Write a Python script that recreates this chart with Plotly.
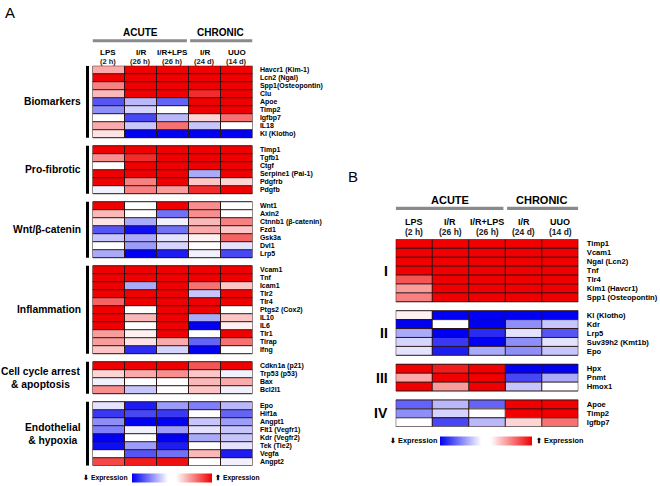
import plotly.graph_objects as go

# ---------------- data ----------------
conditions = ["LPS", "I/R", "I/R+LPS", "I/R", "UUO"]
durations = ["(2 h)", "(26 h)", "(26 h)", "(24 d)", "(14 d)"]
phase_names = ["ACUTE", "CHRONIC"]
phase_cols = [[0, 1, 2], [3, 4]]

# Panel A
a_group_names = ["Biomarkers", "Pro-fibrotic", "Wnt/β-catenin", "Inflammation",
                 "Cell cycle arrest<br>& apoptosis", "Endothelial<br>& hypoxia"]

a_biomarker_genes = ["Havcr1 (Kim-1)", "Lcn2 (Ngal)", "Spp1(Osteopontin)", "Clu", "Apoe",
                     "Timp2", "Igfbp7", "IL18", "Kl (Klotho)"]
a_biomarker_vals = [
    [0.40, 1, 1, 1, 1],
    [1, 1, 1, 1, 1],
    [0.55, 1, 1, 1, 1],
    [0.35, 1, 1, 0.85, 1],
    [-0.70, -0.35, -0.65, 1, 1],
    [-0.50, -0.25, 0.0, 1, 1],
    [0.0, -0.75, -0.35, 0.25, 0.60],
    [0.40, -0.30, 0.60, -0.30, 0.0],
    [0.20, -1, -1, -1, -1],
]

a_fibrotic_genes = ["Timp1", "Tgfb1", "Ctgf", "Serpine1 (Pai-1)", "Pdgfrb", "Pdgfb"]
a_fibrotic_vals = [
    [1, 1, 1, 1, 1],
    [0.50, 0.85, 1, 1, 1],
    [0.0, 1, 1, 1, 1],
    [1, 1, 1, -0.40, 1],
    [1, 0.55, 1, 0.30, 0.25],
    [-0.15, 0.55, 0.45, 0.85, 1],
]

a_wnt_genes = ["Wnt1", "Axin2", "Ctnnb1 (β-catenin)", "Fzd1", "Gsk3a", "Dvl1", "Lrp5"]
a_wnt_vals = [
    [1, -0.10, 1, 0.50, 0.0],
    [0.35, -0.10, -0.60, 0.50, 0.0],
    [0.20, -0.40, -0.15, 0.35, 0.55],
    [-0.70, -0.95, -0.60, 0.40, 0.30],
    [-0.30, -0.40, -0.20, 0.15, 0.65],
    [0.0, -0.45, -0.25, 0.0, -0.20],
    [-0.40, -1, -0.90, -0.15, -0.75],
]

a_inflam_genes = ["Vcam1", "Tnf", "Icam1", "Tlr2", "Tlr4", "Ptgs2 (Cox2)", "IL10", "IL6",
                  "Tlr1", "Tirap", "Ifng"]
a_inflam_vals = [
    [1, 1, 1, 1, 1],
    [1, 1, 1, 1, 1],
    [1, -0.40, 1, 0.60, 0.30],
    [1, 1, 1, -0.30, 1],
    [0.65, 1, 1, 1, 1],
    [1, 0.0, 1, 1, 0.0],
    [1, 0.35, 1, -0.40, 0.30],
    [1, 0.0, 1, -1, 0.15],
    [0.45, 0.15, 1, -0.10, 1],
    [0.45, 0.20, 0.40, -0.65, 0.60],
    [0.30, -0.85, -0.25, -1, 0.10],
]

a_cell_genes = ["Cdkn1a (p21)", "Trp53 (p53)", "Bax", "Bcl2l1"]
a_cell_vals = [
    [1, 1, 1, 0.70, 1],
    [0.25, 0.40, 0.50, 0.30, -0.15],
    [-0.15, 0.0, -0.10, 0.35, 0.40],
    [0.50, -0.30, -0.10, 0.30, -0.15],
]

a_endo_genes = ["Epo", "Hif1a", "Angpt1", "Flt1 (Vegfr1)", "Kdr (Vegfr2)", "Tek (Tie2)",
                "Vegfa", "Angpt2"]
a_endo_vals = [
    [-0.20, -0.90, -0.45, -0.55, -0.35],
    [-0.80, -0.75, -0.80, 0.0, -0.65],
    [-0.50, -1, -1, -0.30, -0.45],
    [-0.55, -0.15, -0.45, -0.20, -0.30],
    [-1, -0.05, -1, -0.40, -0.30],
    [-0.95, -0.45, -0.90, 0.10, -0.20],
    [0.0, -0.70, -0.60, 0.35, -0.90],
    [0.75, 0.90, 0.95, 0.05, -0.15],
]

# Panel B
b_group_names = ["I", "II", "III", "IV"]
b_i_genes = ["Timp1", "Vcam1", "Ngal (Lcn2)", "Tnf", "Tlr4", "Kim1 (Havcr1)", "Spp1 (Osteopontin)"]
b_i_vals = [
    [1, 1, 1, 1, 1],
    [1, 1, 1, 1, 1],
    [1, 1, 1, 1, 1],
    [1, 1, 1, 1, 1],
    [0.70, 1, 1, 1, 1],
    [0.45, 1, 1, 1, 1],
    [0.55, 1, 1, 1, 1],
]
b_ii_genes = ["Kl (Klotho)", "Kdr", "Lrp5", "Suv39h2 (Kmt1b)", "Epo"]
b_ii_vals = [
    [0.15, -1, -1, -1, -1],
    [-1, -0.05, -1, -0.50, -0.30],
    [-0.40, -1, -0.85, -0.20, -0.70],
    [-0.25, -0.80, -1, -0.50, -0.20],
    [-0.20, -0.90, -0.40, -0.50, -0.30],
]
b_iii_genes = ["Hpx", "Pnmt", "Hmox1"]
b_iii_vals = [
    [1, 0.90, 1, -1, -1],
    [0.40, 1, 1, -0.75, -0.40],
    [1, 0.45, 1, -0.30, 0.0],
]
b_iv_genes = ["Apoe", "Timp2", "Igfbp7"]
b_iv_vals = [
    [-0.65, -0.35, -0.65, 1, 1],
    [-0.50, -0.25, 0.0, 1, 1],
    [0.0, -0.75, -0.35, 0.25, 0.60],
]

legend_low = "Expression"
legend_high = "Expression"

# ---------------- helpers ----------------
W, H = 660, 486
FONT = "Liberation Sans, Arial, sans-serif"


def px(x):
    return x / W


def py(y):
    return 1 - y / H


def build(genes_list, vals_list):
    z, ys, labels, spans = [], [], [], []
    row = 0
    for gi, (genes, vals) in enumerate(zip(genes_list, vals_list)):
        start = row
        for g, v in zip(genes, vals):
            z.append(v)
            ys.append(row)
            labels.append(g)
            row += 1
        spans.append((start, row - 1))
        if gi < len(genes_list) - 1:
            z.append([None] * len(conditions))
            ys.append(row)
            labels.append("")
            row += 1
    return z, ys, labels, spans


colorscale = [[0, "#0000f2"], [0.45, "#ffffff"], [0.55, "#ffffff"], [1, "#f00000"]]

zA, yA, labA, spansA = build(
    [a_biomarker_genes, a_fibrotic_genes, a_wnt_genes, a_inflam_genes, a_cell_genes, a_endo_genes],
    [a_biomarker_vals, a_fibrotic_vals, a_wnt_vals, a_inflam_vals, a_cell_vals, a_endo_vals])
zB, yB, labB, spansB = build(
    [b_i_genes, b_ii_genes, b_iii_genes, b_iv_genes],
    [b_i_vals, b_ii_vals, b_iii_vals, b_iv_vals])

xs = list(range(len(conditions)))

fig = go.Figure()

fig.add_trace(go.Heatmap(
    z=zA, x=xs, y=yA, xaxis="x", yaxis="y", colorscale=colorscale, zmin=-1, zmax=1,
    hoverongaps=False,
    colorbar=dict(orientation="h", x=px(171.7), y=py(478.3), xanchor="center", yanchor="middle",
                  len=80, lenmode="pixels", thickness=9, thicknessmode="pixels",
                  showticklabels=False, ticks="", outlinewidth=0, xpad=0, ypad=0)))

fig.add_trace(go.Heatmap(
    z=zB, x=xs, y=yB, xaxis="x2", yaxis="y2", colorscale=colorscale, zmin=-1, zmax=1,
    hoverongaps=False,
    colorbar=dict(orientation="h", x=px(485.8), y=py(440.5), xanchor="center", yanchor="middle",
                  len=92, lenmode="pixels", thickness=9, thicknessmode="pixels",
                  showticklabels=False, ticks="", outlinewidth=0, xpad=0, ypad=0)))

axis_common = dict(showgrid=False, zeroline=False, showline=False)

fig.update_layout(
    width=W, height=H, autosize=False,
    margin=dict(l=0, r=0, t=0, b=0),
    paper_bgcolor="white", plot_bgcolor="white",
    font=dict(family=FONT, color="black"),
    xaxis=dict(domain=[px(92.5), px(252.5)], range=[-0.5, 4.5], showticklabels=False,
               ticks="", anchor="y", **axis_common),
    yaxis=dict(domain=[py(465.7), py(65.7)], range=[len(yA) - 0.5, -0.5], side="right",
               tickmode="array", tickvals=yA, ticktext=labA, ticks="outside", ticklen=5,
               tickcolor="rgba(0,0,0,0)", tickfont=dict(size=7, family=FONT, weight="bold"),
               anchor="x", **axis_common),
    xaxis2=dict(domain=[px(395.7), px(578.3)], range=[-0.5, 4.5], showticklabels=False,
                ticks="", anchor="y2", **axis_common),
    yaxis2=dict(domain=[py(426.7), py(239.3)], range=[len(yB) - 0.5, -0.5], side="right",
                tickmode="array", tickvals=yB, ticktext=labB, ticks="outside", ticklen=6,
                tickcolor="rgba(0,0,0,0)", tickfont=dict(size=7.6, family=FONT, weight="bold"),
                anchor="x2", **axis_common),
)

shapes = []
annotations = []

# cell borders: grid lines drawn over each group's cells
GRID = "#2a1414"
for spans, xr, yr in ((spansA, "x", "y"), (spansB, "x2", "y2")):
    for s, e in spans:
        for r in range(s, e + 2):
            shapes.append(dict(type="line", xref=xr, yref=yr, x0=-0.5, x1=4.5,
                               y0=r - 0.5, y1=r - 0.5, line=dict(width=1, color=GRID)))
        for c in range(len(conditions) + 1):
            shapes.append(dict(type="line", xref=xr, yref=yr, x0=c - 0.5, x1=c - 0.5,
                               y0=s - 0.5, y1=e + 0.5, line=dict(width=1, color=GRID)))

# panel A group labels & bars
for name, (s, e) in zip(a_group_names, spansA):
    annotations.append(dict(xref="paper", yref="y", x=px(83), y=(s + e) / 2, text=name,
                            xanchor="right", yanchor="middle", align="center", showarrow=False,
                            font=dict(size=10.3, family=FONT, weight="bold")))
    shapes.append(dict(type="rect", xref="paper", yref="y", x0=px(86), x1=px(89),
                       y0=s - 0.5, y1=e + 0.5, fillcolor="black", line=dict(width=0)))

# panel B group labels
for name, (s, e) in zip(b_group_names, spansB):
    annotations.append(dict(xref="paper", yref="y2", x=px(390), y=(s + e) / 2, text=name,
                            xanchor="right", yanchor="middle", showarrow=False,
                            font=dict(size=14, family=FONT, weight="bold")))

# headers
headers = [
    dict(xr="x", phase_y=33, bar=(39.3, 42.3), l1=52.7, l2=61.0, pf=10, cf=8, cf2=7.5, gap=0.05),
    dict(xr="x2", phase_y=200, bar=(206.7, 210.0), l1=221.7, l2=231.7, pf=11, cf=9, cf2=8.5, gap=0.05),
]
for h in headers:
    for pname, cols in zip(phase_names, phase_cols):
        annotations.append(dict(xref=h["xr"], yref="paper", x=sum(cols) / len(cols), y=py(h["phase_y"]),
                                text=pname, showarrow=False, xanchor="center", yanchor="middle",
                                font=dict(size=h["pf"], family=FONT, weight="bold")))
    for k, cols in enumerate(phase_cols):
        x0 = cols[0] - 0.5 + (h["gap"] if k > 0 else 0)
        x1 = cols[-1] + 0.5 - (h["gap"] if k < len(phase_cols) - 1 else 0)
        shapes.append(dict(type="rect", xref=h["xr"], yref="paper", x0=x0, x1=x1,
                           y0=py(h["bar"][1]), y1=py(h["bar"][0]), fillcolor="#8a8a8a",
                           line=dict(width=0)))
    for i, (c, d) in enumerate(zip(conditions, durations)):
        annotations.append(dict(xref=h["xr"], yref="paper", x=i, y=py(h["l1"]), text=c,
                                showarrow=False, xanchor="center", yanchor="middle",
                                font=dict(size=h["cf"], family=FONT, weight="bold")))
        annotations.append(dict(xref=h["xr"], yref="paper", x=i, y=py(h["l2"]), text=d,
                                showarrow=False, xanchor="center", yanchor="middle",
                                font=dict(size=h["cf2"], family=FONT, weight="bold", color="#222")))

# colour key labels
for (xl, xr_, yc, fs) in ((130, 213, 478.3, 6.8), (438.5, 534, 440.5, 7.3)):
    annotations.append(dict(xref="paper", yref="paper", x=px(xl), y=py(yc),
                            text="⬇ " + legend_low, showarrow=False, xanchor="right", yanchor="middle",
                            font=dict(size=fs, family=FONT, weight="bold")))
    annotations.append(dict(xref="paper", yref="paper", x=px(xr_), y=py(yc),
                            text="⬆ " + legend_high, showarrow=False, xanchor="left", yanchor="middle",
                            font=dict(size=fs, family=FONT, weight="bold")))

# panel letters
annotations.append(dict(xref="paper", yref="paper", x=px(3), y=py(12), text="A", showarrow=False,
                        xanchor="left", yanchor="middle", font=dict(size=15, family=FONT)))
annotations.append(dict(xref="paper", yref="paper", x=px(346), y=py(176), text="B", showarrow=False,
                        xanchor="left", yanchor="middle", font=dict(size=15, family=FONT)))

fig.update_layout(shapes=shapes, annotations=annotations)
fig.write_html("out.html", config={"displayModeBar": False},
               post_script="document.body.style.margin='0';document.body.style.overflow='hidden';")
